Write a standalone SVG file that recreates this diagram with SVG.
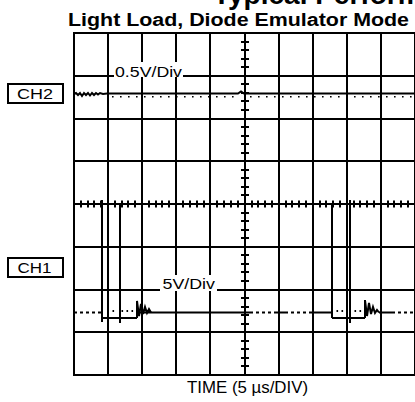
<svg xmlns="http://www.w3.org/2000/svg" width="415" height="402" viewBox="0 0 415 402">
<style>
text{font-family:"Liberation Sans",Arial,sans-serif;fill:#000}
.b{font-weight:bold}
.grid{stroke:#000;stroke-width:2;fill:none}
.tick{stroke:#000;stroke-width:2;fill:none}
.tr{stroke:#000;stroke-width:2;fill:none;stroke-linejoin:miter}
.dash{stroke:#000;stroke-width:2;fill:none;stroke-dasharray:3 3}
.dots{stroke:#000;stroke-width:1.6;fill:none;stroke-dasharray:1.6 6.4}
.box{fill:#fff;stroke:#000;stroke-width:2}
</style>
<rect width="415" height="402" fill="#fff"/>
<g id="title">
<text class="b" x="213" y="4" font-size="28">Typical Perform</text>
<text class="b" x="68" y="26" font-size="18" textLength="341" lengthAdjust="spacingAndGlyphs">Light Load, Diode Emulator Mode</text>
</g>
<g id="grid">
<rect class="grid" x="74" y="33" width="341" height="342"/>
<path class="grid" d="M108,33V375M142,33V375M176,33V375M210,33V375M245,33V375M279,33V375M313,33V375M347,33V375M381,33V375"/>
<path class="grid" d="M74,76H415M74,119H415M74,161H415M74,247H415M74,290H415M74,332H415"/>
<path class="grid" d="M74,204H415"/>
<path class="tick" d="M241,42h8M241,50h8M241,59h8M241,67h8M241,84h8M241,93h8M241,101h8M241,110h8M241,127h8M241,136h8M241,144h8M241,153h8M241,170h8M241,178h8M241,187h8M241,195h8M241,213h8M241,221h8M241,230h8M241,238h8M241,255h8M241,264h8M241,272h8M241,281h8M241,298h8M241,307h8M241,315h8M241,324h8M241,341h8M241,349h8M241,358h8M241,366h8"/>
<path class="tick" d="M81,200.5v7M88,200.5v7M94,200.5v7M101,200.5v7M115,200.5v7M122,200.5v7M128,200.5v7M135,200.5v7M149,200.5v7M156,200.5v7M162,200.5v7M169,200.5v7M183,200.5v7M190,200.5v7M197,200.5v7M204,200.5v7M217,200.5v7M224,200.5v7M231,200.5v7M238,200.5v7M252,200.5v7M258,200.5v7M265,200.5v7M272,200.5v7M286,200.5v7M292,200.5v7M299,200.5v7M306,200.5v7M320,200.5v7M326,200.5v7M333,200.5v7M340,200.5v7M354,200.5v7M360,200.5v7M367,200.5v7M374,200.5v7M388,200.5v7M394,200.5v7M401,200.5v7M408,200.5v7"/>
</g>
<g id="connectors">
<g id="ch2-trace">
<path class="tr" stroke-width="1.5" d="M74,94 L76,93 L78,95 L80,93 L82,96 L84,93 L86,95 L88,93 L90,95.5 L92,93 L94,95 L96,93 L98,94.5 L100,93 L103,94 L107,93.5 H238 L241,91.5 L244,93.5 H415"/>
<path class="dots" d="M112,96.8 H238 M250,96.8 H415"/>
</g>
<g id="ch1-trace">
<path class="dash" d="M74,312.5 H102"/>
<path class="tr" d="M137,312.5 H250 M275,312.5 H285 M310,312.5 H332 M379,312.5 H392"/>
<path class="dash" d="M250,312.5 H275 M285,312.5 H310 M392,312.5 H415"/>
<path class="tr" stroke-width="3" d="M102,200 V322"/>
<path class="tr" d="M102,318 H137 M332,318 H365"/>
<path class="tr" stroke-width="2" d="M120,204 V323 M332,204 V318"/>
<path class="tr" stroke-width="3" d="M350,200 V323"/>
<path class="tr" stroke-width="1.5" d="M137,318 V301 L139,316 L141,304 L143,314 L145,307 L147,313 L149,309 L151,312.5"/>
<path class="tr" stroke-width="1.5" d="M365,318 V300 L367,316 L369,303 L371,314 L373,307 L375,313 L377,310 L379,312.5"/>
<path class="tr" stroke-width="1.6" d="M112.5,311 h1.6 M121.5,311 h1.6 M126.5,311 h1.6 M131.5,311 h1.6 M336.5,311 h1.6 M341.5,311 h1.6 M354.5,311 h1.6 M359.5,311 h1.6"/>
</g>
</g>
<g id="label-ch2-scale">
<rect x="114" y="62" width="69" height="15" fill="#fff"/>
<text x="115" y="76.5" font-size="15" textLength="67" lengthAdjust="spacingAndGlyphs">0.5V/Div</text>
</g>
<g id="label-ch1-scale">
<rect x="160" y="275" width="57" height="16" fill="#fff"/>
<text x="162.5" y="289" font-size="15" textLength="52.5" lengthAdjust="spacingAndGlyphs">5V/Div</text>
</g>
<g id="ch2">
<rect class="box" x="8" y="84" width="55" height="19"/>
<text x="17" y="98.5" font-size="15" textLength="36" lengthAdjust="spacingAndGlyphs">CH2</text>
</g>
<g id="ch1">
<rect class="box" x="8" y="258" width="55" height="19"/>
<text x="17.5" y="272.5" font-size="15" textLength="34" lengthAdjust="spacingAndGlyphs">CH1</text>
</g>
<g id="xaxis-label">
<text x="187" y="393" font-size="16" textLength="121" lengthAdjust="spacingAndGlyphs">TIME (5 µs/DIV)</text>
</g>
</svg>
